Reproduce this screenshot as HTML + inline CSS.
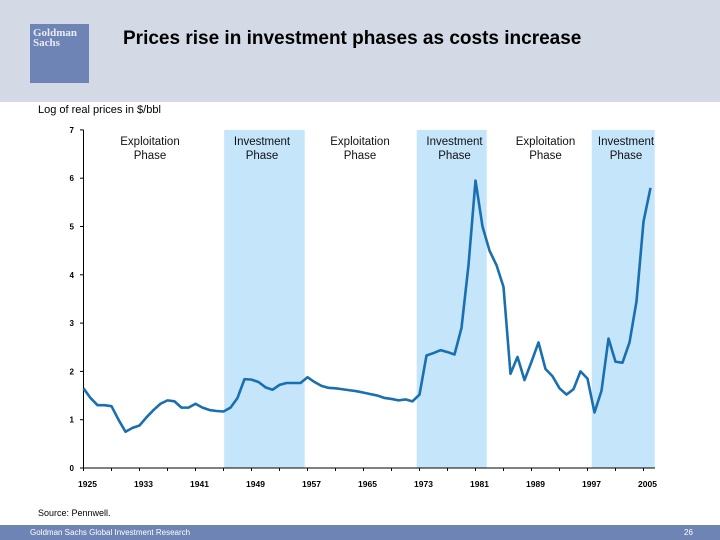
<!DOCTYPE html>
<html><head><meta charset="utf-8"><style>
body{margin:0;width:720px;height:540px;overflow:hidden;background:#fff;font-family:"Liberation Sans",sans-serif;position:relative}
#hdr{position:absolute;left:0;top:0;width:720px;height:102px;background:#d3dae6}
#logo{position:absolute;left:30px;top:24px;width:59px;height:59px;background:#6e84b5;color:#e8ecf5;font-family:"Liberation Serif",serif;font-weight:bold;font-size:11px;line-height:10px;padding:4px 3px;box-sizing:border-box}
#title{position:absolute;left:123px;top:28px;font-weight:bold;font-size:19px;color:#000}
#sub{position:absolute;left:38px;top:104px;font-size:11px}
#src{position:absolute;left:38px;top:508px;font-size:9px}
#foot{position:absolute;left:0;top:525px;width:720px;height:15px;background:#6e84b5;color:#fff;font-size:8px}
</style></head><body>
<div id="hdr"></div>
<div id="logo">Goldman<br>Sachs</div>
<div id="title">Prices rise in investment phases as costs increase</div>
<div id="sub">Log of real prices in $/bbl</div>
<svg id="chart" width="720" height="540" style="position:absolute;left:0;top:0"></svg>
<div id="src">Source: Pennwell.</div>
<div id="foot"><span style="position:absolute;left:30px;top:3px">Goldman Sachs Global Investment Research</span><span style="position:absolute;left:684px;top:3px">26</span></div>
<script>
const years=[1925,1926,1927,1928,1929,1930,1931,1932,1933,1934,1935,1936,1937,1938,1939,1940,1941,1942,1943,1944,1945,1946,1947,1948,1949,1950,1951,1952,1953,1954,1955,1956,1957,1958,1959,1960,1961,1962,1963,1964,1965,1966,1967,1968,1969,1970,1971,1972,1973,1974,1975,1976,1977,1978,1979,1980,1981,1982,1983,1984,1985,1986,1987,1988,1989,1990,1991,1992,1993,1994,1995,1996,1997,1998,1999,2000,2001,2002,2003,2004,2005,2006];
const prices=[1.65,1.45,1.3,1.3,1.28,1.0,0.75,0.83,0.88,1.05,1.2,1.33,1.4,1.38,1.25,1.25,1.33,1.25,1.2,1.18,1.17,1.25,1.45,1.84,1.83,1.78,1.67,1.62,1.72,1.76,1.76,1.76,1.88,1.78,1.7,1.66,1.65,1.63,1.61,1.59,1.56,1.53,1.5,1.45,1.43,1.4,1.42,1.38,1.52,2.33,2.38,2.44,2.4,2.35,2.9,4.2,5.95,5.0,4.5,4.2,3.75,1.95,2.3,1.82,2.2,2.6,2.05,1.9,1.65,1.52,1.63,2.0,1.85,1.15,1.6,2.68,2.2,2.18,2.6,3.45,5.1,5.8];
const xTicks=[1925,1933,1941,1949,1957,1965,1973,1981,1989,1997,2005];
const yTicks=[0,1,2,3,4,5,6,7];
const phaseStart=[1945.1,1972.6,1997.6];
const phaseEnd=[1956.6,1982.6,2006.6];
const phaseLabelYears=[1934.5,1950.5,1964.5,1978,1991,2002.5];
const phaseLabels=["Exploitation","Investment","Exploitation","Investment","Exploitation","Investment"];
const NS='http://www.w3.org/2000/svg';
const svg=document.getElementById('chart');
const X=y=>83.5+(y-1925)*7;
const Y=v=>468-v*48.3;
function mk(t,a){const e=document.createElementNS(NS,t);for(const k in a)e.setAttribute(k,a[k]);svg.appendChild(e);return e;}
phaseStart.forEach((s,i)=>{const r=mk('rect',{x:X(s),y:Y(7),width:X(phaseEnd[i])-X(s),height:Y(0)-Y(7),fill:'#c5e5fb'});

});
phaseLabels.forEach((l,i)=>{const t=mk('text',{x:X(phaseLabelYears[i]),y:145,'text-anchor':'middle','font-size':'11.5','font-family':'Liberation Sans, sans-serif',fill:'#111'});
t.innerHTML='<tspan x="'+X(phaseLabelYears[i])+'">'+l+'</tspan><tspan x="'+X(phaseLabelYears[i])+'" dy="14">Phase</tspan>';

});
mk('line',{x1:83.5,y1:Y(7),x2:83.5,y2:Y(0),stroke:'#000','stroke-width':1});
mk('line',{x1:83.5,y1:Y(0),x2:655,y2:Y(0),stroke:'#000','stroke-width':1});
yTicks.forEach(v=>{mk('line',{x1:80,x2:83.5,y1:Y(v),y2:Y(v),stroke:'#000'});
const t=mk('text',{x:74,y:Y(v)+3,'text-anchor':'end','font-size':'8','font-weight':'bold','font-family':'Liberation Sans, sans-serif'});t.textContent=v;

});
for(let y=1925;y<=2005;y+=4)mk('line',{x1:X(y),x2:X(y),y1:Y(0),y2:Y(0)+3,stroke:'#000'});
xTicks.forEach(y=>{const t=mk('text',{x:X(y)+4,y:487,'text-anchor':'middle','font-size':'8.5','font-weight':'bold','font-family':'Liberation Sans, sans-serif'});t.textContent=y;

});
const p=mk('polyline',{points:years.map((y,i)=>X(y)+','+Y(prices[i])).join(' '),fill:'none',stroke:'#1a6fb0','stroke-width':2.6,'stroke-linejoin':'round'});


</script>
</body></html>
